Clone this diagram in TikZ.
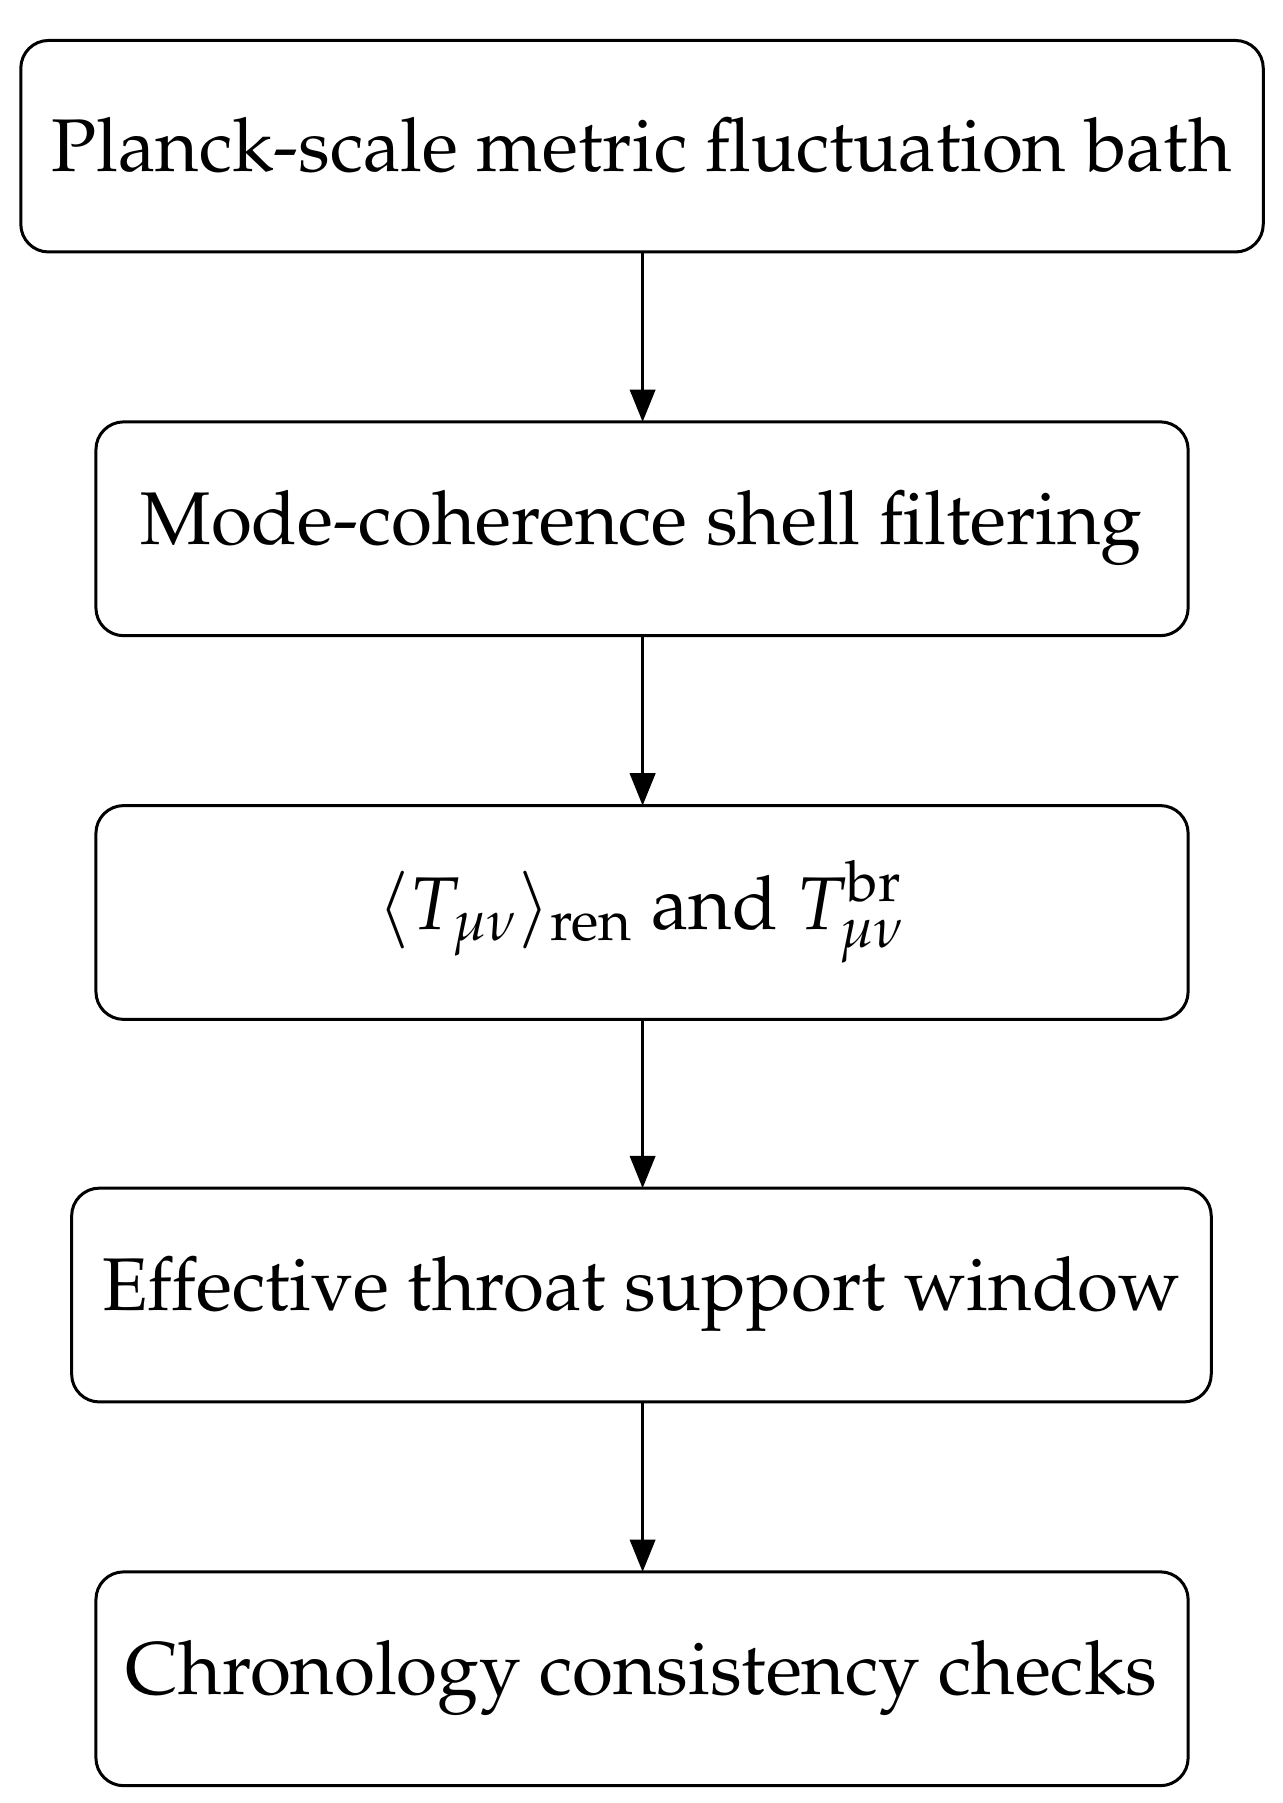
\documentclass[tikz,border=0pt]{standalone}
\usepackage[T1]{fontenc}
\usepackage{mathpazo}
\usetikzlibrary{arrows.meta}
\begin{document}
\begin{tikzpicture}[x=0.5pt,y=-0.5pt,
 box/.style={draw,line width=1.3pt,rounded corners=12pt,inner sep=0pt},
 arr/.style={-{Triangle[length=14pt,width=11pt]},line width=1.2pt},
 txt/.style={font=\fontsize{32.3}{38}\selectfont}]
\useasboundingbox (0,0) rectangle (1110,1560);
\draw[box] (18,35) rectangle (1093,218);
\draw[box] (83,365) rectangle (1028,550);
\draw[box] (83,697) rectangle (1028,882);
\draw[box] (62,1028) rectangle (1048,1213);
\draw[box] (83,1360) rectangle (1028,1545);
\node[txt] (a) at (555,126) {Planck-scale metric fluctuation bath};
\node[txt] (b) at (555,457) {Mode-coherence shell filtering};
\node[txt] (c) at (555,789) {$\langle T_{\mu\nu}\rangle_{\mathrm{ren}}$ and $T^{\mathrm{br}}_{\mu\nu}$};
\node[txt] (d) at (555,1120) {Effective throat support window};
\node[txt] (e) at (555,1452) {Chronology consistency checks};
\coordinate (a1) at (556,218); \coordinate (b0) at (556,365);
\coordinate (b1) at (556,550); \coordinate (c0) at (556,697);
\coordinate (c1) at (556,882); \coordinate (d0) at (556,1028);
\coordinate (d1) at (556,1213); \coordinate (e0) at (556,1360);
\draw[arr] (a1) -- (b0);
\draw[arr] (b1) -- (c0);
\draw[arr] (c1) -- (d0);
\draw[arr] (d1) -- (e0);
\end{tikzpicture}
\end{document}
